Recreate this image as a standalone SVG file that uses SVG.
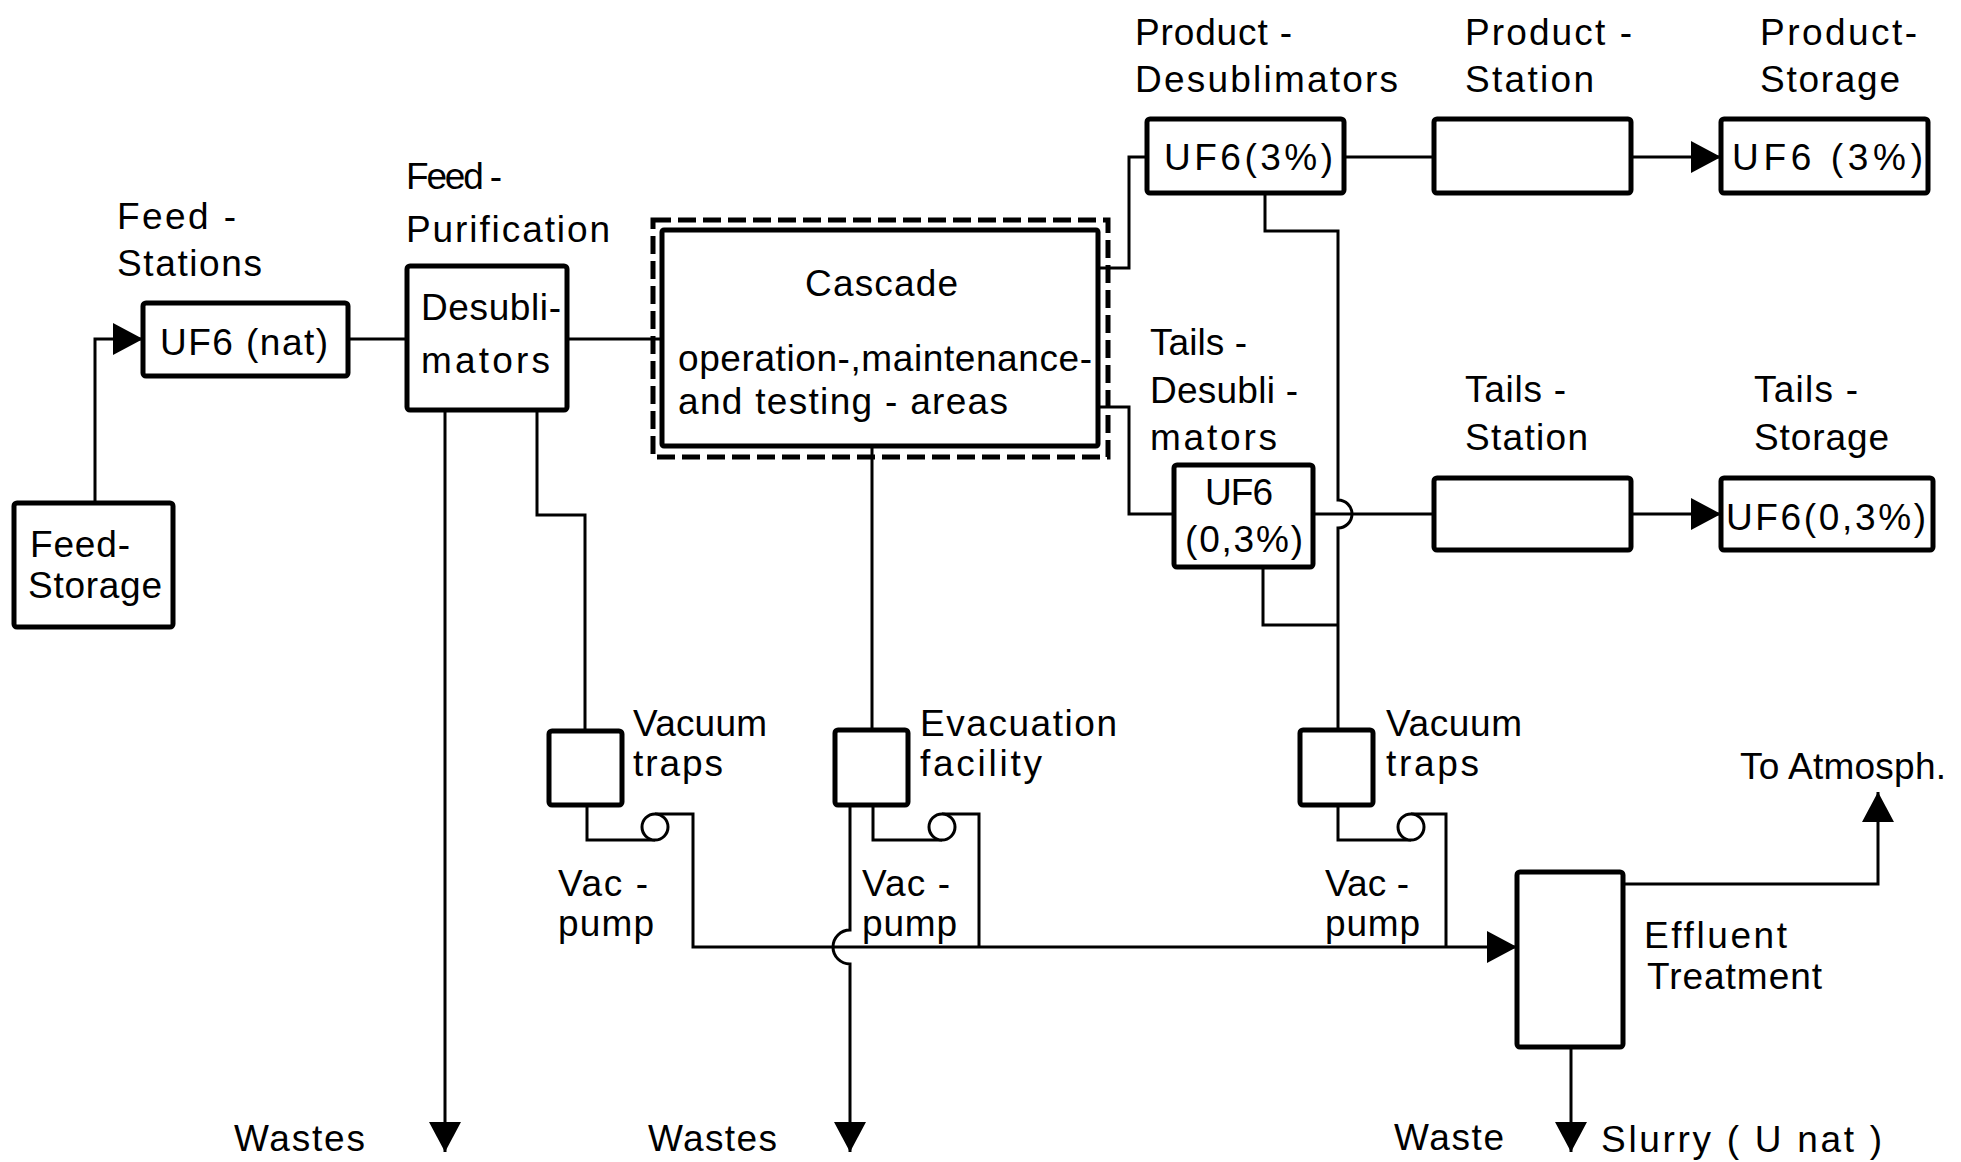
<svg xmlns="http://www.w3.org/2000/svg" width="1961" height="1162" viewBox="0 0 1961 1162">
  <defs>
    <style>
      .box { fill: #fff; stroke: #000; stroke-width: 5; }
      .sq { fill: #fff; stroke: #000; stroke-width: 5; }
      .dash { fill: none; stroke: #000; stroke-width: 5; stroke-dasharray: 18 7; }
      .line { fill: none; stroke: #000; stroke-width: 3; stroke-linejoin: miter; }
      .pump { fill: #fff; stroke: #000; stroke-width: 3; }
      text { font-family: "Liberation Sans", Arial, sans-serif; font-size: 37px; fill: #000; }
    </style>
    <marker id="arrow" markerUnits="userSpaceOnUse" viewBox="0 0 30 32" markerWidth="30" markerHeight="32" refX="30" refY="16" orient="auto">
      <path d="M0,0 L30,16 L0,32 Z" fill="#000"/>
    </marker>
  </defs>
  <rect width="1961" height="1162" fill="#fff"/>

  <!-- connectors -->
  <g id="connectors">
    <path class="line" d="M95,503 V339 H143" marker-end="url(#arrow)"/>
    <path class="line" d="M348,339 H407"/>
    <path class="line" d="M567,339 H662"/>
    <path class="line" d="M1098,268 H1129 V157 H1147"/>
    <path class="line" d="M1098,407 H1129 V514 H1174"/>
    <path class="line" d="M1344,157 H1434"/>
    <path class="line" d="M1631,157 H1721" marker-end="url(#arrow)"/>
    <path class="line" d="M1313,514 H1434"/>
    <path class="line" d="M1631,514 H1721" marker-end="url(#arrow)"/>
    <!-- product desublimator drain, hopping over the tails line -->
    <path class="line" d="M1265,193 V231 H1338 V500 A14,14 0 0 1 1338,528 V730"/>
    <path class="line" d="M1263,567 V625 H1338"/>
    <!-- feed purification -->
    <path class="line" d="M445,410 V1152" marker-end="url(#arrow)"/>
    <path class="line" d="M537,410 V515 H585 V731"/>
    <path class="line" d="M872,446 V730"/>
    <!-- vacuum pumps -->
    <path class="line" d="M587,805 V840 H655"/>
    <path class="line" d="M655,814 H693 V947 H1517" marker-end="url(#arrow)"/>
    <path class="line" d="M873,805 V840 H942"/>
    <path class="line" d="M942,814 H979 V947"/>
    <path class="line" d="M850,805 V930 A17,17 0 0 0 850,964 V1152" marker-end="url(#arrow)"/>
    <path class="line" d="M1338,805 V840 H1411"/>
    <path class="line" d="M1411,814 H1446 V947"/>
    <!-- effluent outlets -->
    <path class="line" d="M1623,884 H1878 V792" marker-end="url(#arrow)"/>
    <path class="line" d="M1571,1047 V1152" marker-end="url(#arrow)"/>
  </g>

  <g id="pump1"><circle class="pump" cx="655" cy="827" r="13"/></g>
  <g id="pump2"><circle class="pump" cx="942" cy="827" r="13"/></g>
  <g id="pump3"><circle class="pump" cx="1411" cy="827" r="13"/></g>

  <g id="feed-storage">
    <rect class="box" x="14" y="503" width="159" height="124" rx="3"/>
    <text x="30" y="557" textLength="100">Feed-</text>
    <text x="28" y="598" textLength="134">Storage</text>
  </g>

  <g id="feed-stations">
    <text x="117" y="229" textLength="119">Feed -</text>
    <text x="117" y="276" textLength="145">Stations</text>
    <rect class="box" x="143" y="303" width="205" height="73" rx="3"/>
    <text x="160" y="355" textLength="168">UF6 (nat)</text>
  </g>

  <g id="feed-purification">
    <text x="406" y="189" textLength="96">Feed -</text>
    <text x="406" y="242" textLength="204">Purification</text>
    <rect class="box" x="407" y="266" width="160" height="144" rx="3"/>
    <text x="421" y="320" textLength="140">Desubli-</text>
    <text x="421" y="373" textLength="129">mators</text>
  </g>

  <g id="cascade">
    <rect class="dash" x="653" y="220" width="455" height="237"/>
    <rect class="box" x="662" y="230" width="436" height="216" rx="2"/>
    <text x="805" y="296" textLength="153">Cascade</text>
    <text x="678" y="371" textLength="414">operation-,maintenance-</text>
    <text x="678" y="414" textLength="330">and  testing - areas</text>
  </g>

  <g id="product-desublimators">
    <text x="1135" y="45" textLength="157">Product -</text>
    <text x="1135" y="92" textLength="263">Desublimators</text>
    <rect class="box" x="1147" y="119" width="197" height="74" rx="3"/>
    <text x="1164" y="170" textLength="169">UF6(3%)</text>
  </g>

  <g id="product-station">
    <text x="1465" y="45" textLength="167">Product -</text>
    <text x="1465" y="92" textLength="129">Station</text>
    <rect class="box" x="1434" y="119" width="197" height="74" rx="3"/>
  </g>

  <g id="product-storage">
    <text x="1760" y="45" textLength="157">Product-</text>
    <text x="1760" y="92" textLength="140">Storage</text>
    <rect class="box" x="1721" y="119" width="207" height="74" rx="3"/>
    <text x="1732" y="170" textLength="191">UF6 (3%)</text>
  </g>

  <g id="tails-desublimators">
    <text x="1150" y="355" textLength="97">Tails -</text>
    <text x="1150" y="403" textLength="148">Desubli -</text>
    <text x="1150" y="450" textLength="127">mators</text>
    <rect class="box" x="1174" y="465" width="139" height="102" rx="3"/>
    <text x="1205" y="505" textLength="68">UF6</text>
    <text x="1185" y="552" textLength="118">(0,3%)</text>
  </g>

  <g id="tails-station">
    <text x="1465" y="402" textLength="101">Tails -</text>
    <text x="1465" y="450" textLength="123">Station</text>
    <rect class="box" x="1434" y="478" width="197" height="72" rx="3"/>
  </g>

  <g id="tails-storage">
    <text x="1754" y="402" textLength="104">Tails -</text>
    <text x="1754" y="450" textLength="135">Storage</text>
    <rect class="box" x="1721" y="478" width="212" height="72" rx="3"/>
    <text x="1726" y="530" textLength="200">UF6(0,3%)</text>
  </g>

  <g id="vacuum-traps-1">
    <rect class="sq" x="549" y="731" width="73" height="74" rx="3"/>
    <text x="633" y="736" textLength="134">Vacuum</text>
    <text x="633" y="776" textLength="90">traps</text>
    <text x="558" y="896" textLength="90">Vac -</text>
    <text x="558" y="936" textLength="96">pump</text>
  </g>

  <g id="evacuation-facility">
    <rect class="sq" x="835" y="730" width="73" height="75" rx="3"/>
    <text x="920" y="736" textLength="197">Evacuation</text>
    <text x="920" y="776" textLength="122">facility</text>
    <text x="862" y="896" textLength="88">Vac -</text>
    <text x="862" y="936" textLength="95">pump</text>
  </g>

  <g id="vacuum-traps-3">
    <rect class="sq" x="1300" y="730" width="73" height="75" rx="3"/>
    <text x="1386" y="736" textLength="136">Vacuum</text>
    <text x="1386" y="776" textLength="93">traps</text>
    <text x="1325" y="896" textLength="84">Vac -</text>
    <text x="1325" y="936" textLength="95">pump</text>
  </g>

  <g id="effluent-treatment">
    <rect class="box" x="1517" y="872" width="106" height="175" rx="3"/>
    <text x="1644" y="948" textLength="143">Effluent</text>
    <text x="1647" y="989" textLength="175">Treatment</text>
  </g>

  <g id="outlets">
    <text x="1740" y="779" textLength="206">To Atmosph.</text>
    <text x="1394" y="1150" textLength="110">Waste</text>
    <text x="1601" y="1152" textLength="281">Slurry  ( U nat )</text>
    <text x="234" y="1151" textLength="131">Wastes</text>
    <text x="648" y="1151" textLength="129">Wastes</text>
  </g>
</svg>
